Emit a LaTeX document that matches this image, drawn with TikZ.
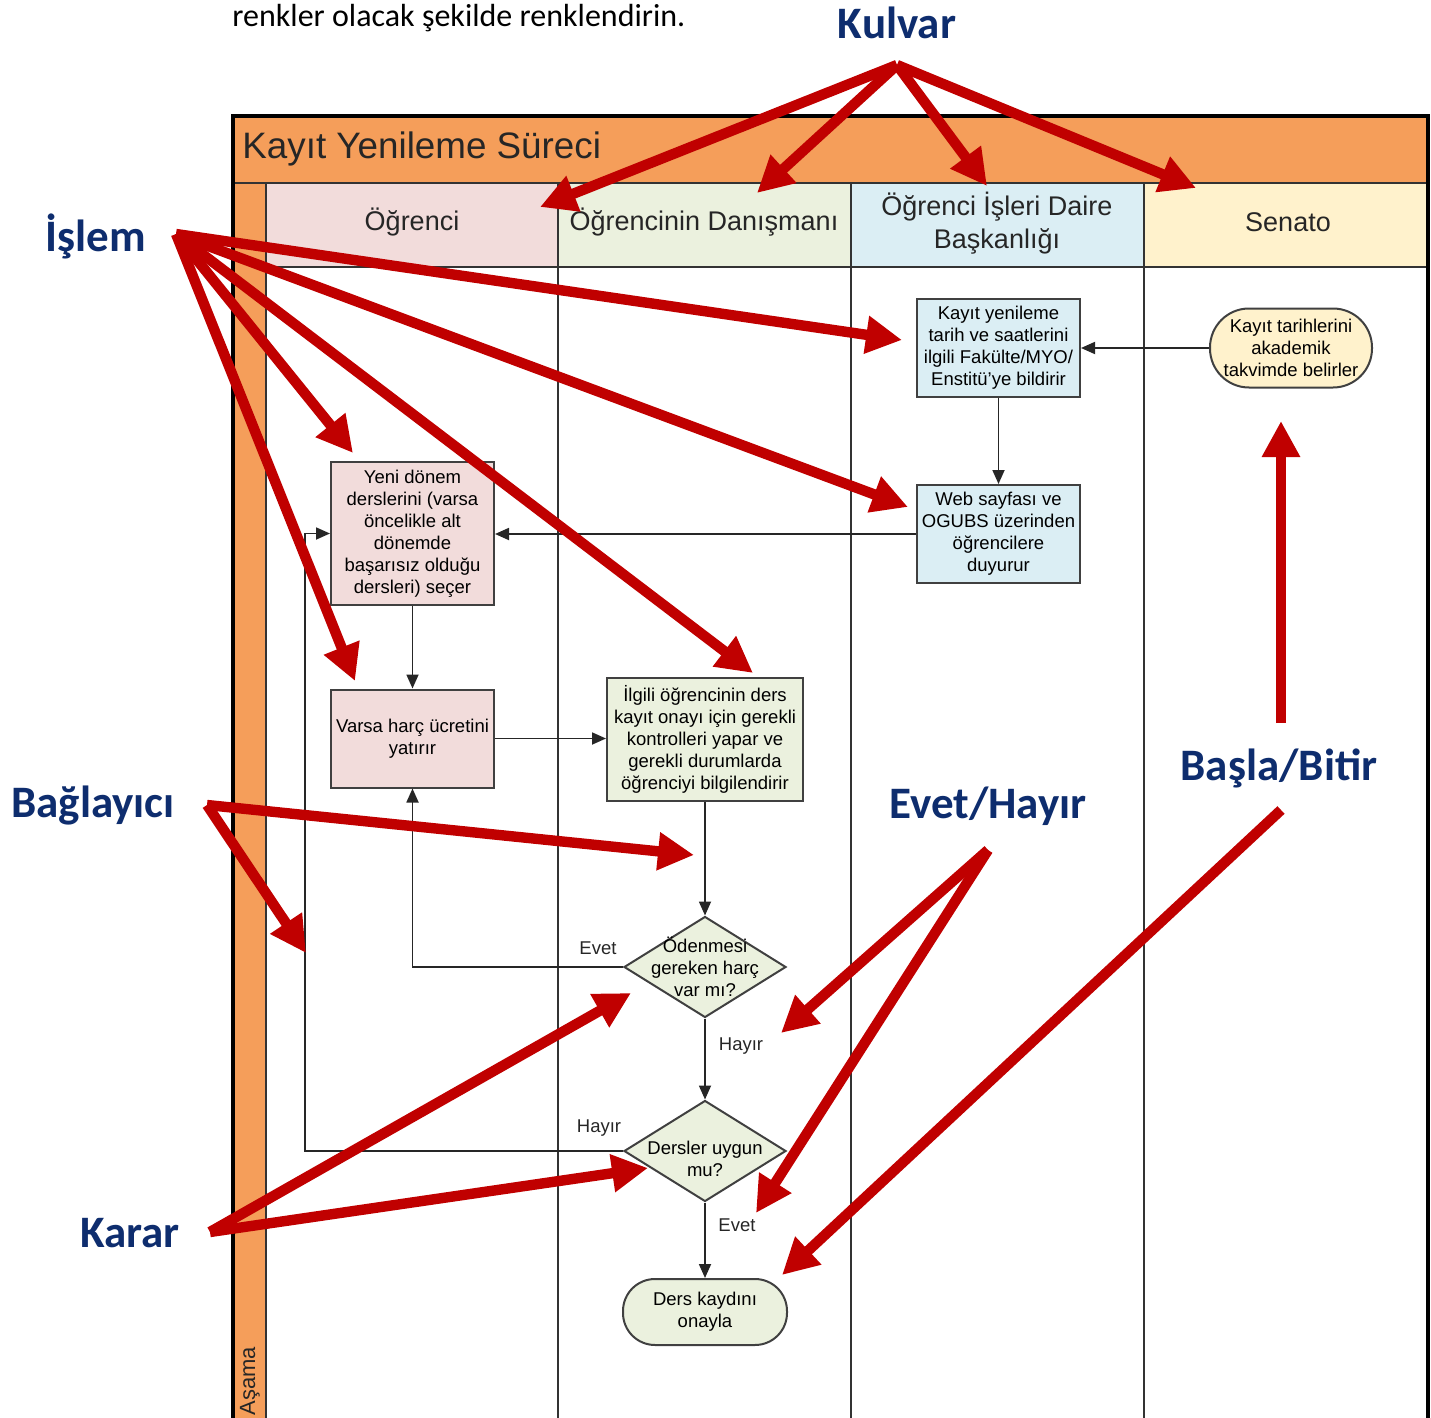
\documentclass[tikz,border=0pt]{standalone}
\usepackage{fontspec}
\setmainfont{Liberation Sans}
\newfontfamily\calib{Carlito}
\usetikzlibrary{arrows.meta,shapes.geometric}
\definecolor{orng}{RGB}{245,158,90}
\definecolor{pinkc}{HTML}{F2DCDB}
\definecolor{greenc}{HTML}{EBF1DE}
\definecolor{bluec}{HTML}{DBEEF4}
\definecolor{yelc}{HTML}{FFF2CC}
\definecolor{redc}{HTML}{C00000}
\definecolor{navy}{HTML}{0E2D6E}
\begin{document}
\begin{tikzpicture}[x=0.5pt,y=-0.5pt,
  boxtxt/.style={font=\fontsize{9.25}{11}\selectfont, align=center},
  proc/.style={boxtxt, draw=black!75, line width=1pt, minimum width=81.5pt, minimum height=49pt, inner sep=1pt},
  dec/.style={diamond, draw=black!75, line width=1pt, fill=greenc, minimum width=81pt, minimum height=50.5pt, inner sep=0pt},
  term/.style={boxtxt, draw=black!75, line width=1pt, inner sep=1pt},
  flow/.style={line width=0.9pt, draw=black!85, -{Triangle[length=7pt,width=6pt]}},
  lbl/.style={font=\fontsize{9.25}{11}\selectfont, text=black!85},
  hdr/.style={font=\fontsize{13.5}{16.5}\selectfont, align=center, text=black!85},
  ann/.style={font=\calib\bfseries\fontsize{22.5}{27}\selectfont, text=navy, inner sep=0pt},
  redarr/.style={draw=redc, line width=5.2pt, -{Triangle[length=18pt,width=18pt]}}
]
\useasboundingbox (0,0) rectangle (1431,1418);

% ---------- pool / lanes ----------
\fill[orng] (233,116) rectangle (1428,183);
\fill[orng] (233,183) rectangle (266,1418);
\fill[pinkc] (266,183) rectangle (558,267);
\fill[greenc] (558,183) rectangle (851,267);
\fill[bluec] (851,183) rectangle (1144,267);
\fill[yelc] (1144,183) rectangle (1428,267);
\draw[line width=0.9pt, black!80] (233,183) -- (1428,183);
\draw[line width=0.9pt, black!80] (266,267) -- (1428,267);
\foreach \xx in {266,558,851,1144} \draw[line width=0.9pt, black!80] (\xx,183) -- (\xx,1418);
\draw[line width=1.6pt] (233,1418) -- (233,116) -- (1428,116) -- (1428,1418);

\node[font=\fontsize{18.4}{22}\selectfont, anchor=west, inner sep=0pt, text=black!85] (title) at (242,149) {Kayıt Yenileme Süreci};
\node[font=\fontsize{11}{13}\selectfont, rotate=90, anchor=west, inner sep=0pt, text=black!85] (asama) at (250,1416) {Aşama};
\node[hdr] (h1) at (412,222) {Öğrenci};
\node[hdr] (h2) at (704,222) {Öğrencinin Danışmanı};
\node[hdr] (h3) at (997,223) {Öğrenci İşleri Daire\\Başkanlığı};
\node[hdr] (h4) at (1288,222) {Senato};

% ---------- flowchart nodes ----------
\node[term, fill=yelc, rounded corners=19.5pt, minimum width=81pt, minimum height=39.5pt] (sen) at (1291,348) {Kayıt tarihlerini\\akademik\\takvimde belirler};
\node[proc, fill=bluec] (b1) at (998.5,348) {Kayıt yenileme\\tarih ve saatlerini\\ilgili Fakülte/MYO/\\Enstitü'ye bildirir};
\node[proc, fill=bluec] (b2) at (998.5,534) {Web sayfası ve\\OGUBS üzerinden\\öğrencilere\\duyurur};
\node[proc, fill=pinkc, minimum height=71.5pt] (b3) at (412.5,533.5) {Yeni dönem\\derslerini (varsa\\öncelikle alt\\dönemde\\başarısız olduğu\\dersleri) seçer};
\node[proc, fill=pinkc] (b4) at (412.5,738.5) {Varsa harç ücretini\\yatırır};
\node[proc, fill=greenc, minimum width=98pt, minimum height=61.5pt] (b5) at (705,739.5) {İlgili öğrencinin ders\\kayıt onayı için gerekli\\kontrolleri yapar ve\\gerekli durumlarda\\öğrenciyi bilgilendirir};
\node[dec] (d1) at (705,967) {};
\node[boxtxt, inner sep=0pt] (d1t) at (705,967) {Ödenmesi\\gereken harç\\var mı?};
\node[dec] (d2) at (705,1151) {};
\node[boxtxt, inner sep=0pt] (d2t) at (705,1159) {Dersler uygun\\mu?};
\node[term, fill=greenc, rounded corners=16pt, minimum width=82pt, minimum height=33pt] (end) at (705,1312) {Ders kaydını\\onayla};

% ---------- flow connectors ----------
\draw[flow] (sen.west) -- (b1.east);
\draw[flow] (b1.south) -- (b2.north);
\draw[flow] (b2.west) -- (b2.west -| b3.east);
\draw[flow] (b3.south) -- (b4.north);
\draw[flow] (b4.east) -- (b4.east -| b5.west);
\draw[flow] (b5.south) -- (d1.north);
\draw[flow] (d1.west) -| (b4.south);
\draw[flow] (d1.south) -- (d2.north);
\coordinate (loop) at (305,533.5);
\draw[flow] (d2.west) -| (loop) -- (b3.west);
\draw[flow] (d2.south) -- (end.north);

\node[lbl] (l1) at (598,948) {Evet};
\node[lbl] (l2) at (741,1046) {Hayır};
\node[lbl] (l3) at (599,1128) {Hayır};
\node[lbl] (l4) at (737,1225) {Evet};

% ---------- annotations ----------
\node[font=\calib\fontsize{16}{19}\selectfont, anchor=west, inner sep=0pt] (top) at (232,18) {renkler olacak şekilde renklendirin.};
\node[ann] (kulvar) at (897,23) {Kulvar};
\node[ann] (islem) at (96,236) {İşlem};
\node[ann] (bag) at (93,806) {Bağlayıcı};
\node[ann] (eh) at (988,806) {Evet/Hayır};
\node[ann] (bb) at (1279,768) {Başla/Bitir};
\node[ann] (karar) at (130,1233) {Karar};

\coordinate (ks) at (897,65);
\coordinate (k1) at (540,207);
\coordinate (k2) at (757,193);
\coordinate (k3) at (987,186);
\coordinate (k4) at (1196,188);
\foreach \t in {k1,k2,k3,k4} \draw[redarr] (ks) -- (\t);

\coordinate (is) at (176,234);
\coordinate (i1) at (902,340);
\coordinate (i2) at (908,507);
\coordinate (i3) at (353,453);
\coordinate (i4) at (355,681);
\coordinate (i5) at (753,673);
\foreach \t in {i1,i2,i3,i4,i5} \draw[redarr] (is) -- (\t);

\coordinate (bs) at (207,805);
\coordinate (bg1) at (694,855);
\coordinate (bg2) at (306,953);
\foreach \t in {bg1,bg2} \draw[redarr] (bs) -- (\t);

\coordinate (es) at (988,850);
\coordinate (e1) at (781,1033);
\coordinate (e2) at (756,1213);
\foreach \t in {e1,e2} \draw[redarr] (es) -- (\t);

\coordinate (bb1s) at (1281,723);
\coordinate (bb1) at (1281,421);
\draw[redarr] (bb1s) -- (bb1);
\coordinate (bb2s) at (1281,810);
\coordinate (bb2) at (782,1275);
\draw[redarr] (bb2s) -- (bb2);

\coordinate (ka) at (210,1232);
\coordinate (ka1) at (631,993);
\coordinate (ka2) at (648,1168);
\foreach \t in {ka1,ka2} \draw[redarr] (ka) -- (\t);

\end{tikzpicture}
\end{document}
